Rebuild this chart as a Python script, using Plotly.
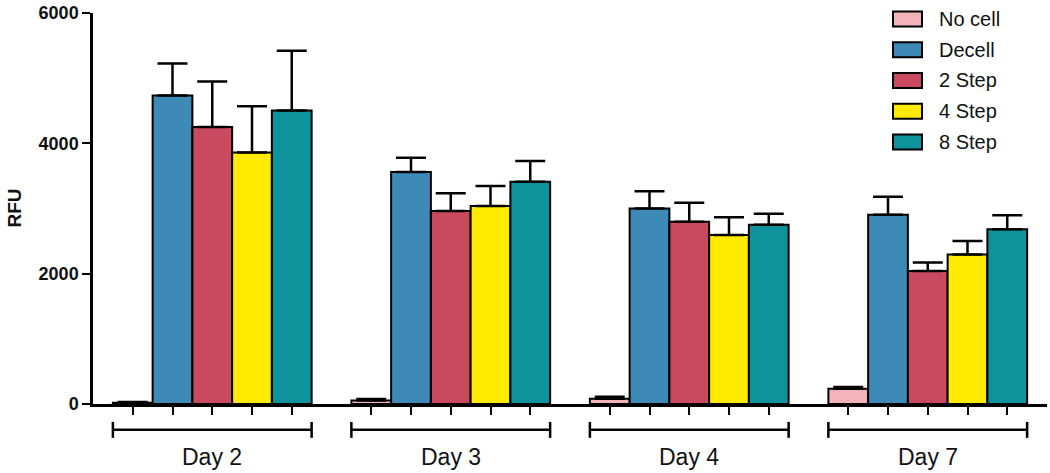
import plotly.graph_objects as go

# ---- data ----
days = ["Day 2", "Day 3", "Day 4", "Day 7"]
series = ["No cell", "Decell", "2 Step", "4 Step", "8 Step"]
colors = ["#F4B3B8", "#3E8AB6", "#C94A5E", "#FFEA00", "#0E939C"]

no_cell = [20, 55, 80, 235]
decell = [4735, 3560, 3000, 2905]
step2 = [4250, 2960, 2795, 2040]
step4 = [3860, 3040, 2595, 2295]
step8 = [4505, 3410, 2750, 2680]
values = [no_cell, decell, step2, step4, step8]

no_cell_err = [12, 20, 30, 25]
decell_err = [490, 220, 265, 275]
step2_err = [700, 275, 295, 130]
step4_err = [710, 305, 270, 205]
step8_err = [915, 320, 170, 215]
errors = [no_cell_err, decell_err, step2_err, step4_err, step8_err]

y_ticks = [0, 2000, 4000, 6000]

# ---- layout geometry ----
W, H = 1050, 473
L, R, T, B = 93, 3, 11, 473 - 404
PW, PH = W - L - R, H - T - B
n_s = len(series)
step = n_s + 1


def px_x(px):
    return (px - L) / PW


def px_y(py):
    return (H - B - py) / PH


fig = go.Figure()
all_pos = []
for s, name in enumerate(series):
    xs = [g * step + s for g in range(len(days))]
    all_pos += xs
    fig.add_trace(go.Bar(
        x=xs, y=values[s], name=name, width=1,
        marker=dict(color=colors[s], line=dict(color="black", width=2)),
        error_y=dict(type="data", array=errors[s], arrayminus=[0] * len(days),
                     symmetric=False, color="black", thickness=2.5, width=15),
        showlegend=False,
    ))

shapes = []
annotations = []
# group brackets and day labels
for g, d in enumerate(days):
    x0 = g * step - 0.5
    x1 = g * step + n_s - 0.5
    yb = px_y(430)
    shapes.append(dict(type="line", xref="x", yref="paper", x0=x0, x1=x1, y0=yb, y1=yb,
                       line=dict(color="black", width=2.5)))
    for xe in (x0, x1):
        shapes.append(dict(type="line", xref="x", yref="paper", x0=xe, x1=xe,
                           y0=px_y(422), y1=px_y(438), line=dict(color="black", width=2.5)))
    annotations.append(dict(text=d, xref="x", yref="paper", x=(x0 + x1) / 2, y=px_y(457),
                            showarrow=False, xanchor="center", yanchor="middle",
                            font=dict(size=23, color="#111", family="Liberation Sans, Arial")))

# custom legend
for s, name in enumerate(series):
    cy = 17 + 30.9 * s
    shapes.append(dict(type="rect", xref="paper", yref="paper",
                       x0=px_x(893), x1=px_x(922), y0=px_y(cy - 7.5), y1=px_y(cy + 7.5),
                       fillcolor=colors[s], line=dict(color="black", width=2)))
    annotations.append(dict(text=name, xref="paper", yref="paper", x=px_x(937), y=px_y(cy),
                            showarrow=False, xanchor="left", yanchor="middle",
                            font=dict(size=20, color="#111", family="Liberation Sans, Arial")))

annotations.append(dict(text="<b>RFU</b>", xref="paper", yref="paper", x=px_x(14), y=0.5,
                        showarrow=False, textangle=-90, xanchor="center", yanchor="middle",
                        font=dict(size=19, color="#111", family="Liberation Sans, Arial")))

fig.update_layout(
    width=W, height=H,
    margin=dict(l=L, r=R, t=T, b=B),
    paper_bgcolor="white", plot_bgcolor="white",
    barmode="overlay",
    shapes=shapes, annotations=annotations,
    font=dict(family="Liberation Sans, Arial", color="#111"),
)
fig.update_xaxes(range=[-1, len(days) * step - 1], showgrid=False, zeroline=False,
                 showline=True, linecolor="black", linewidth=2.5,
                 tickvals=all_pos, ticks="outside", ticklen=8, tickwidth=2, tickcolor="black",
                 showticklabels=False)
fig.update_yaxes(range=[0, 6000], showgrid=False, zeroline=False,
                 showline=True, linecolor="black", linewidth=2.5,
                 tickvals=y_ticks, ticktext=[f"<b>{v}</b>" for v in y_ticks],
                 ticks="outside", ticklen=8, tickwidth=2, tickcolor="black",
                 ticklabeloverflow="allow",
                 tickfont=dict(size=18, color="#111", family="Liberation Sans, Arial"))

fig.write_html("out.html", config={"displayModeBar": False},
               post_script="document.body.style.margin='0';")
